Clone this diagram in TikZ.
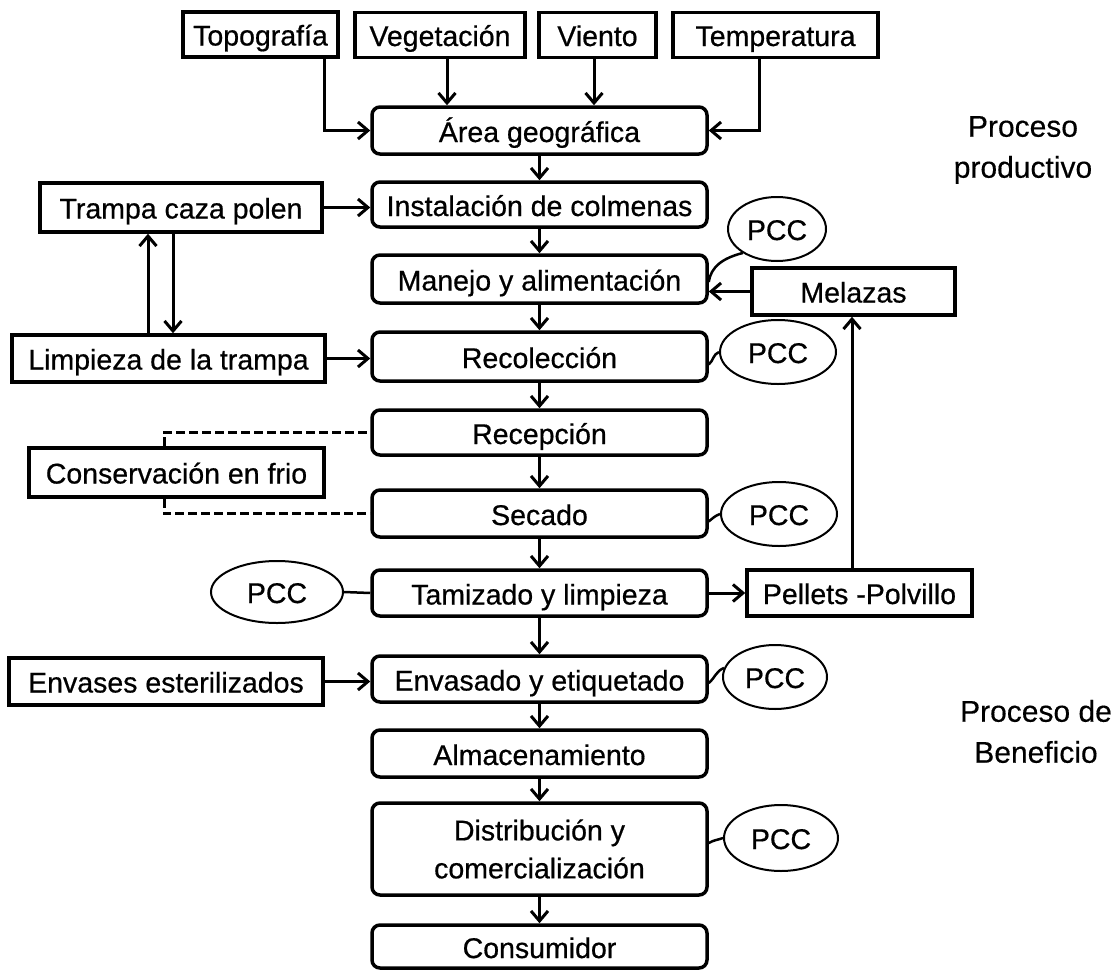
\documentclass[tikz,border=0pt]{standalone}
\usepackage{fontspec}
\setmainfont{Liberation Sans}[FakeBold=0.6]
\newfontfamily\plainfont{Liberation Sans}[FakeBold=0.4]
\usetikzlibrary{arrows.meta,shapes.geometric}
\newcommand{\diagfont}{\fontsize{28.5}{38}\selectfont}
\begin{document}
\begin{tikzpicture}[x=1pt,y=-1pt,
  every node/.style={font=\diagfont, inner sep=0pt},
  sq/.style={draw, line width=3.5pt, rectangle, text height=22pt, text depth=0pt},
  rbox/.style={draw, line width=3.5pt, rectangle, rounded corners=8pt, minimum width=335pt},
  one/.style={text height=23pt, text depth=0pt},
  pcc/.style={draw, ellipse, line width=2pt, text height=22pt, text depth=0pt},
  arr/.style={line width=3pt, -{Straight Barb[length=10pt,width=17pt]}},
  link/.style={line width=2.5pt},
  dsh/.style={line width=3pt, dash pattern=on 9pt off 4pt},
  side/.style={align=center, font=\plainfont\fontsize{30}{41}\selectfont}
]
\useasboundingbox (0,0) rectangle (1120,972);

% top factors
\node[sq, minimum width=155pt, minimum height=45pt] (topo) at (260.5,34.5) {Topografía};
\node[sq, minimum width=170pt, minimum height=45pt] (veg) at (440,35) {Vegetación};
\node[sq, minimum width=117pt, minimum height=45pt] (vie) at (597.5,35) {Viento};
\node[sq, minimum width=205pt, minimum height=45pt] (temp) at (775.5,35) {Temperatura};

% main column
\node[rbox, one, minimum height=47pt] (area) at (539.5,130.5) {Área geográfica};
\node[rbox, one, minimum height=45pt] (inst) at (539.5,204.5) {Instalación de colmenas};
\node[rbox, one, minimum height=48pt] (man) at (539.5,279) {Manejo y alimentación};
\node[rbox, one, minimum height=49pt] (rec) at (539.5,356.5) {Recolección};
\node[rbox, one, minimum height=45pt] (recep) at (539.5,432.5) {Recepción};
\node[rbox, one, minimum height=47pt] (sec) at (539.5,513.5) {Secado};
\node[rbox, one, minimum height=46pt] (tam) at (539.5,593) {Tamizado y limpieza};
\node[rbox, one, minimum height=46pt] (env) at (539.5,679) {Envasado y etiquetado};
\node[rbox, one, minimum height=47pt] (alm) at (539.5,753.5) {Almacenamiento};
\node[rbox, align=center, minimum height=92pt] (dist) at (539.5,849) {Distribución y\\comercialización};
\node[rbox, one, minimum height=43pt] (cons) at (539.5,946.5) {Consumidor};

% left column
\node[sq, minimum width=282pt, minimum height=49pt] (tra) at (181,207.5) {Trampa caza polen};
\node[sq, minimum width=313pt, minimum height=47pt] (lim) at (168.5,358.5) {Limpieza de la trampa};
\node[sq, minimum width=295pt, minimum height=49pt] (cf) at (176.5,472.5) {Conservación en frio};
\node[sq, minimum width=314pt, minimum height=47pt] (eest) at (166,681.5) {Envases esterilizados};

% right column
\node[sq, minimum width=203pt, minimum height=47pt] (mel) at (853.5,291.5) {Melazas};
\node[sq, minimum width=225pt, minimum height=46pt] (pel) at (859.5,593) {Pellets -Polvillo};

% PCC ellipses
\node[pcc, minimum width=98pt, minimum height=64pt] (p1) at (777,229) {PCC};
\node[pcc, minimum width=116pt, minimum height=64pt] (p2) at (778,352) {PCC};
\node[pcc, minimum width=116pt, minimum height=64pt] (p3) at (779,514) {PCC};
\node[pcc, minimum width=132pt, minimum height=62pt] (p0) at (277,592) {PCC};
\node[pcc, minimum width=104pt, minimum height=64pt] (p4) at (775,677) {PCC};
\node[pcc, minimum width=114pt, minimum height=66pt] (p5) at (781,838) {PCC};

% side labels
\node[side] (t1) at (1023,150) {Proceso\\productivo};
\node[side] (t2) at (1036,731.5) {Proceso de\\Beneficio};

% helper coordinates
\coordinate (tp) at (324,0);
\coordinate (vg) at (447,0);
\coordinate (vt) at (594,0);
\coordinate (tm) at (759,0);
\coordinate (ua) at (148,0);
\coordinate (da) at (173,0);
\coordinate (dx) at (164,0);
\coordinate (mx) at (852,0);

% top arrows
\draw[arr] (topo.south -| tp) |- (area.west);
\draw[arr] (veg.south -| vg) -- (area.north -| vg);
\draw[arr] (vie.south -| vt) -- (area.north -| vt);
\draw[arr] (temp.south -| tm) |- (area.east);

% main flow
\draw[arr] (area.south) -- (inst.north);
\draw[arr] (inst.south) -- (man.north);
\draw[arr] (man.south) -- (rec.north);
\draw[arr] (rec.south) -- (recep.north);
\draw[arr] (recep.south) -- (sec.north);
\draw[arr] (sec.south) -- (tam.north);
\draw[arr] (tam.south) -- (env.north);
\draw[arr] (env.south) -- (alm.north);
\draw[arr] (alm.south) -- (dist.north);
\draw[arr] (dist.south) -- (cons.north);

% left side
\draw[arr] (tra.east) -- (tra.east -| inst.west);
\draw[arr] (lim.north -| ua) -- (tra.south -| ua);
\draw[arr] (tra.south -| da) -- (lim.north -| da);
\draw[arr] (lim.east) -- (lim.east -| rec.west);
\draw[dsh] (cf.north -| dx) |- (recep.west);
\draw[dsh] (cf.south -| dx) |- (sec.west);
\draw[arr] (eest.east) -- (eest.east -| env.west);
\draw[link] (p0.east) -- (tam.west);

% right side
\draw[arr] (tam.east) -- (pel.west);
\draw[arr] (pel.north -| mx) -- (mel.south -| mx);
\draw[arr] (mel.west) -- (mel.west -| man.east);
\draw[link] (p1.215) .. controls +(-20,5) and +(2,-15) .. ([yshift=-3pt]man.east);
\draw[link] ([yshift=-8pt]rec.east) to[out=40,in=200] (p2.west);
\draw[link] ([yshift=-8pt]sec.east) to[out=40,in=200] (p3.west);
\draw[link] ([yshift=-4pt]env.east) to[out=40,in=200] (p4.170);
\draw[link] ([yshift=6pt]dist.east) to[out=30,in=200] (p5.west);
\end{tikzpicture}
\end{document}
